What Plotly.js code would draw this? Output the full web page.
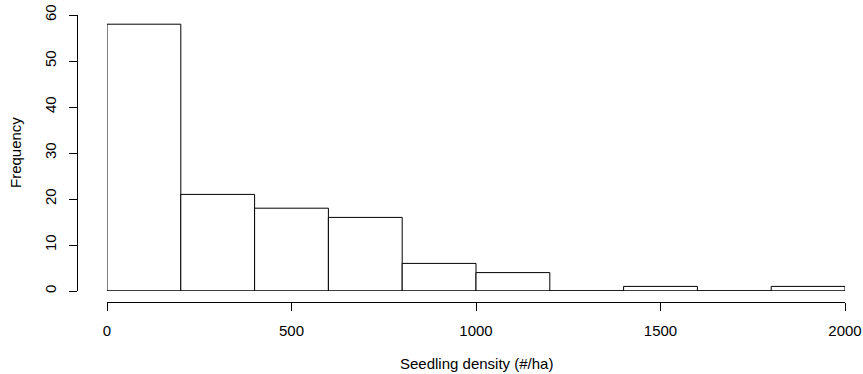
<!DOCTYPE html>
<html>
<head>
<meta charset="utf-8">
<script src="https://cdn.plot.ly/plotly-3.0.1.min.js"></script>
<style>html,body{margin:0;padding:0;background:#fff;}#chart{width:863px;height:374px;}</style>
</head>
<body>
<div id="chart"></div>
<script>
// Histogram bins (seedling density, #/ha)
const binStarts = [0, 200, 400, 600, 800, 1000, 1200, 1400, 1600, 1800];
const binWidth = 200;
const frequencies = [58, 21, 18, 16, 6, 4, 0, 1, 0, 1];
const xTicks = [0, 500, 1000, 1500, 2000];
const yTicks = [0, 10, 20, 30, 40, 50, 60];
const xTitle = "Seedling density (#/ha)";
const yTitle = "Frequency";

const mids = binStarts.map(s => s + binWidth / 2);
const xMax = binStarts[binStarts.length - 1] + binWidth;
const font = {family: "Liberation Sans, Arial, sans-serif", size: 15, color: "#000"};

const W = 863, H = 374;
const mL = 77, mR = 18, mT = 15, mB = 72;
const plotW = W - mL - mR, plotH = H - mT - mB;

const trace = {
  type: "bar",
  x: mids,
  y: frequencies,
  width: binStarts.map(() => binWidth),
  marker: {color: "#ffffff", line: {color: "#000", width: 1}},
  cliponaxis: false,
  hoverinfo: "x+y"
};

const layout = {
  width: W, height: H,
  margin: {l: mL, r: mR, t: mT, b: mB, pad: 0},
  paper_bgcolor: "#fff", plot_bgcolor: "rgba(0,0,0,0)",
  showlegend: false,
  bargap: 0,
  font: font,
  xaxis: {
    range: [0, xMax],
    domain: [(107 - mL) / plotW, 1],
    anchor: "free", position: 0,
    tickvals: xTicks, ticktext: xTicks.map(String),
    ticks: "outside", ticklen: 8, tickwidth: 1, tickcolor: "#000",
    showline: true, linecolor: "#000", linewidth: 1,
    showgrid: false, zeroline: false,
    ticklabelstandoff: 7,
    tickfont: font
  },
  yaxis: {
    range: [0, 60],
    domain: [(302 - 291) / plotH, 1],
    anchor: "free", position: 0,
    tickvals: yTicks, ticktext: yTicks.map(String),
    tickangle: -90,
    ticks: "outside", ticklen: 8, tickwidth: 1, tickcolor: "#000",
    showline: true, linecolor: "#000", linewidth: 1,
    showgrid: false, zeroline: false,
    ticklabelstandoff: 7,
    tickfont: font
  },
  shapes: [{
    type: "line", xref: "x", yref: "y",
    x0: binStarts[0], x1: xMax, y0: 0, y1: 0,
    line: {color: "#000", width: 1}
  }],
  annotations: [
    {text: xTitle, xref: "x", x: xMax / 2, yref: "paper", y: -(363 - 302) / plotH,
     xanchor: "center", yanchor: "middle", showarrow: false, font: font},
    {text: yTitle, xref: "paper", x: (15 - mL) / plotW, yref: "y", y: 30,
     xanchor: "center", yanchor: "middle", textangle: -90, showarrow: false, font: font}
  ]
};

Plotly.newPlot("chart", [trace], layout, {displayModeBar: false, staticPlot: true});
</script>
</body>
</html>
